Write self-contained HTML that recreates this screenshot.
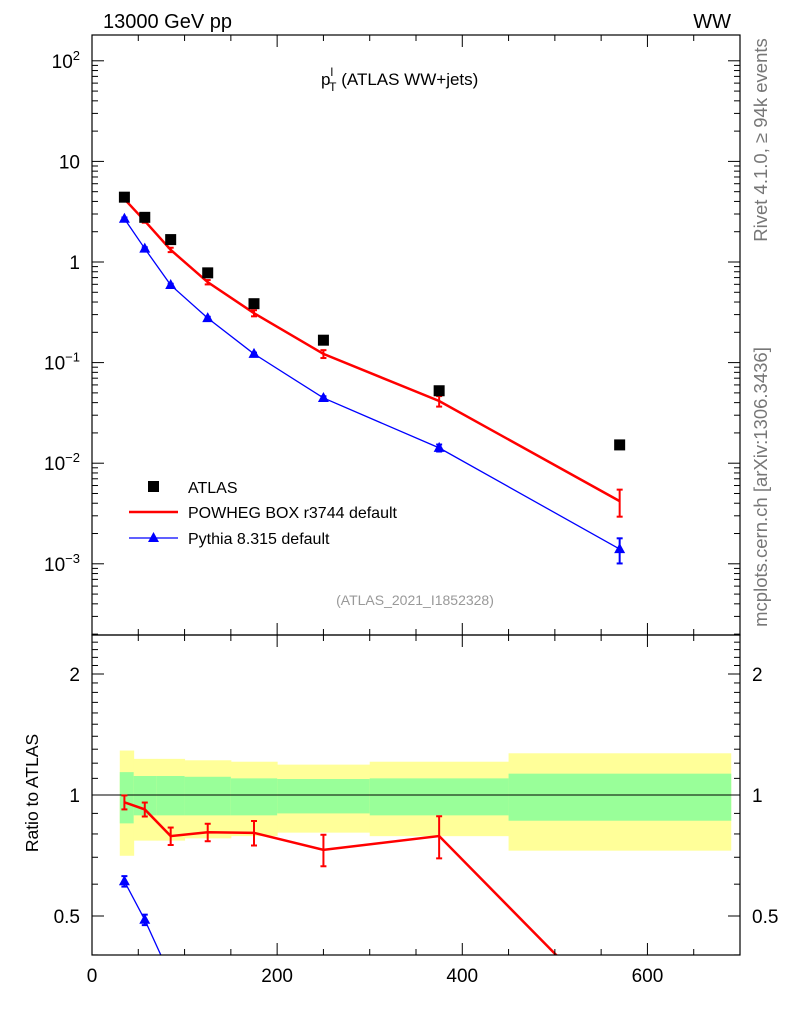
<!DOCTYPE html>
<html><head><meta charset="utf-8"><style>
html,body{margin:0;background:#fff;overflow:hidden;width:786px;height:1024px}
#wrap{position:relative;width:786px;height:1024px;overflow:hidden}
svg{display:block}
svg text{font-family:"Liberation Sans",sans-serif}
</style></head><body>
<div id="wrap">
<svg id="c" width="786" height="1024" style="position:absolute;left:0;top:0" xmlns="http://www.w3.org/2000/svg"></svg>
<script>
const xCenters=[35,57,85,125,175,250,375,570];
const bandEdges=[30,45,70,100,150,200,300,450,690];
const atlas=[4.41,2.78,1.67,0.78,0.385,0.167,0.0525,0.0152];
const powheg=[4.23,2.56,1.32,0.63,0.31,0.122,0.0415,0.0042];
const powhegErr=[0.04,0.04,0.05,0.05,0.07,0.09,0.12,0.3];
const pythia=[2.69,1.36,0.59,0.277,0.122,0.0445,0.0142,0.0014];
const pythiaErr=[0.03,0.03,0.03,0.03,0.03,0.04,0.08,0.28];
const yellowHi=[1.29,1.23,1.23,1.22,1.21,1.19,1.21,1.27];
const yellowLo=[0.706,0.77,0.77,0.78,0.79,0.806,0.79,0.727];
const greenHi=[1.14,1.115,1.115,1.11,1.10,1.096,1.10,1.13];
const greenLo=[0.85,0.89,0.89,0.89,0.89,0.90,0.89,0.863];
const xTicks=[0,200,400,600];
const mainTicks=[[2,"10<tspan dy='-8' font-size='13'>2</tspan>"],[1,"10"],[0,"1"],[-1,"10<tspan dy='-8' font-size='13'>−1</tspan>"],[-2,"10<tspan dy='-8' font-size='13'>−2</tspan>"],[-3,"10<tspan dy='-8' font-size='13'>−3</tspan>"]];
const ratioTicks=[2,1,0.5];

const svg=document.getElementById('c');
const L=92,R=740,T=35,MB=635,RB=955;
const X=v=>L+v*(R-L)/700;
const Y=v=>262-Math.log10(v)*100.6;
const YR=v=>795-Math.log2(v)*121;
function el(tag,a,parent){const e=document.createElementNS('http://www.w3.org/2000/svg',tag);for(const k in a)e.setAttribute(k,a[k]);(parent||svg).appendChild(e);return e;}
function tx(x,y,s,a){const e=el('text',Object.assign({x:x,y:y},a||{}));e.innerHTML=s;return e;}

for(let i=0;i<8;i++){
  const x0=X(bandEdges[i]),x1=X(bandEdges[i+1]);
  const y=el('rect',{x:x0,y:YR(yellowHi[i]),width:x1-x0+0.5,height:YR(yellowLo[i])-YR(yellowHi[i]),fill:'#ffff99'});
  
  
  const g=el('rect',{x:x0,y:YR(greenHi[i]),width:x1-x0+0.5,height:YR(greenLo[i])-YR(greenHi[i]),fill:'#99ff99'});
  
  
}
el('line',{x1:L,x2:R,y1:YR(1),y2:YR(1),stroke:'#000','stroke-width':1});

const defs=el('defs',{});
const c1=el('clipPath',{id:'cm'},defs);el('rect',{x:L,y:T,width:R-L,height:MB-T},c1);
const c2=el('clipPath',{id:'cr'},defs);el('rect',{x:L,y:MB,width:R-L,height:RB-MB},c2);
const gm=el('g',{'clip-path':'url(#cm)'});
const gr=el('g',{'clip-path':'url(#cr)'});

function series(g,xs,ys,errs,color,w,marker,yf,nm){
  const pl=el('polyline',{points:xs.map((x,i)=>X(x)+','+yf(ys[i])).join(' '),fill:'none',stroke:color,'stroke-width':w},g);
  
  
  xs.forEach((x,i)=>{
    const cx=X(x),v=ys[i],e=errs[i];
    const a=yf(v*(1+e)),b=yf(v*(1-e));
    el('line',{x1:cx,x2:cx,y1:a,y2:b,stroke:color,'stroke-width':2},g);
    el('line',{x1:cx-3,x2:cx+3,y1:a,y2:a,stroke:color,'stroke-width':2},g);
    el('line',{x1:cx-3,x2:cx+3,y1:b,y2:b,stroke:color,'stroke-width':2},g);
    if(marker){const cy=yf(v);const m=el('polygon',{points:`${cx},${cy-6} ${cx-5.5},${cy+4} ${cx+5.5},${cy+4}`,fill:color},g);
      
      }
  });
}
series(gm,xCenters,powheg,powhegErr,'#ff0000',2.5,false,Y,'powheg');
series(gm,xCenters,pythia,pythiaErr,'#0000ff',1.3,true,Y,'pythia');
xCenters.forEach((x,i)=>{const r=el('rect',{x:X(x)-5.5,y:Y(atlas[i])-5.5,width:11,height:11,fill:'#000'},gm);
  
  });
series(gr,xCenters,powheg.map((v,i)=>v/atlas[i]),powhegErr,'#ff0000',2.5,false,YR,'powheg-ratio');
series(gr,xCenters,pythia.map((v,i)=>v/atlas[i]),pythiaErr,'#0000ff',1.3,true,YR,'pythia-ratio');

el('rect',{x:L,y:T,width:R-L,height:MB-T,fill:'none',stroke:'#000','stroke-width':1.2});
el('rect',{x:L,y:MB,width:R-L,height:RB-MB,fill:'none',stroke:'#000','stroke-width':1.2});

for(let v=0;v<=700;v+=50){const x=X(v),big=v%200==0?12:6;
  [T,MB].forEach(yy=>el('line',{x1:x,x2:x,y1:yy,y2:yy+big,stroke:'#000'}));
  [MB,RB].forEach(yy=>el('line',{x1:x,x2:x,y1:yy,y2:yy-big,stroke:'#000'}));}
xTicks.forEach(v=>tx(X(v),982,v,{'font-size':19,'text-anchor':'middle'}));

for(let d=-4;d<=2;d++){for(let m=1;m<10;m++){const y=Y(m*Math.pow(10,d));if(y<T||y>MB)continue;const len=m==1?12:6;
  el('line',{x1:L,x2:L+len,y1:y,y2:y,stroke:'#000'});el('line',{x1:R,x2:R-len,y1:y,y2:y,stroke:'#000'});}}
mainTicks.forEach(t=>tx(80,Y(Math.pow(10,t[0]))+7,t[1],{'font-size':19,'text-anchor':'end'}));

for(let v=0.4;v<=2.5;v+=0.1){const y=YR(v);if(y<MB||y>RB)continue;const big=Math.abs(v-1)<1e-6||Math.abs(v-2)<1e-6||Math.abs(v-0.5)<1e-6;const len=big?12:6;
  el('line',{x1:L,x2:L+len,y1:y,y2:y,stroke:'#000'});el('line',{x1:R,x2:R-len,y1:y,y2:y,stroke:'#000'});}
ratioTicks.forEach(v=>{tx(80,YR(v)+7,v,{'font-size':19,'text-anchor':'end'});tx(752,YR(v)+7,v,{'font-size':19});});
</script>
<svg width="786" height="1024" style="position:absolute;left:0;top:0" xmlns="http://www.w3.org/2000/svg">
<text x="103" y="28" font-size="20">13000 GeV pp</text>
<text x="731" y="28" font-size="20" text-anchor="end">WW</text>
<text x="321" y="85" font-size="17">p<tspan font-size="12" dy="-9">l</tspan><tspan font-size="12" dx="-4" dy="15">T</tspan><tspan dy="-6"> (ATLAS WW+jets)</tspan></text>
<text x="415" y="605" font-size="14" fill="#999" text-anchor="middle">(ATLAS_2021_I1852328)</text>
<text transform="translate(767,140) rotate(-90)" font-size="18.5" fill="#777" text-anchor="middle">Rivet 4.1.0, ≥ 94k events</text>
<text transform="translate(767,487) rotate(-90)" font-size="18.5" fill="#777" text-anchor="middle">mcplots.cern.ch [arXiv:1306.3436]</text>
<text transform="translate(38,793) rotate(-90)" font-size="17.5" text-anchor="middle">Ratio to ATLAS</text>
<g>
<rect x="148" y="481" width="11" height="11" fill="#000"/>
<text x="188" y="493" font-size="16">ATLAS</text>
<line x1="129" x2="178" y1="512" y2="512" stroke="#f00" stroke-width="2.5"/>
<text x="188" y="518" font-size="16">POWHEG BOX r3744 default</text>
<line x1="129" x2="178" y1="538" y2="538" stroke="#00f" stroke-width="1.3"/>
<polygon points="153.5,532 148,542 159,542" fill="#00f"/>
<text x="188" y="544" font-size="16">Pythia 8.315 default</text>
</g>
</svg>
</div>
</body></html>
